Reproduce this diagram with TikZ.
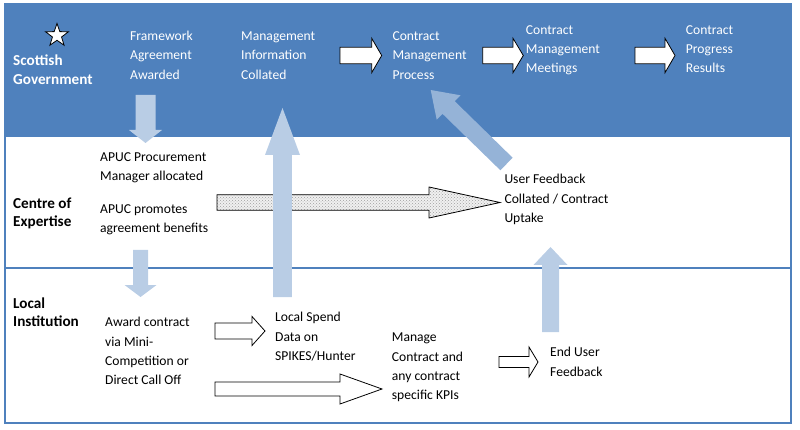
\documentclass[tikz,border=0pt]{standalone}
\usepackage{fontspec}
\setmainfont{Carlito}
\usetikzlibrary{shapes.geometric,patterns}
\definecolor{band}{HTML}{4F81BD}
\definecolor{lblue}{HTML}{B9CDE5}
\definecolor{dblue}{HTML}{95B3D7}
\newcommand\harrow[7]{\draw[#1] (#2,#5-#6) -- (#3,#5-#6) -- (#3,#5-#7) -- (#4,#5) -- (#3,#5+#7) -- (#3,#5+#6) -- (#2,#5+#6) -- cycle;}
\newcommand\varrow[7]{\draw[#1] (#5-#6,#2) -- (#5-#6,#3) -- (#5-#7,#3) -- (#5,#4) -- (#5+#7,#3) -- (#5+#6,#3) -- (#5+#6,#2) -- cycle;}
\tikzset{
  txt/.style={anchor=base west, inner sep=0pt, align=left, font=\fontsize{13.6}{19.3}\selectfont},
  wtxt/.style={txt, text=white},
  lane/.style={anchor=base west, inner sep=0pt, align=left, font=\fontsize{15.2}{18.6}\selectfont\bfseries},
  outarr/.style={draw=black, fill=white, line width=0.8pt, line join=miter},
  bluearr/.style={draw=none, fill=lblue},
  diagarr/.style={draw=none, fill=dblue},
  dotarr/.style={draw=black, line width=0.8pt, preaction={fill=gray!12}, pattern=crosshatch dots, pattern color=gray!75},
  frame/.style={draw=band, line width=1.2pt}
}
\begin{document}
\begin{tikzpicture}[x=1pt,y=-1pt]
\useasboundingbox (0,0) rectangle (800,430);
% lanes
\fill[band] (5,4) rectangle (791,137);
\draw[frame] (5,268) -- (791,268);
\draw[frame] (5,4) rectangle (791,423);
% star
\node[star, star points=5, star point ratio=2.5, draw=black, fill=white, line width=0.8pt, inner sep=0pt, minimum size=24pt] (star) at (57,35.5) {};
% lane labels (anchor = baseline of last line)
\node[lane, text=white] (sg) at (13,84.3) {Scottish\\Government};
\node[lane] (coe) at (13,226.9) {Centre of\\Expertise};
\node[lane] (li) at (13,326.9) {Local\\Institution};
% header texts
\node[wtxt] (fa) at (130,79.3) {Framework\\Agreement\\Awarded};
\node[wtxt] (mi) at (241,79.3) {Management\\Information\\Collated};
\node[wtxt] (cmp) at (392.3,79.3) {Contract\\Management\\Process};
\node[wtxt] (cmm) at (525.7,72.9) {Contract\\Management\\Meetings};
\node[wtxt] (cpr) at (685.7,72.9) {Contract\\Progress\\Results};
% centre texts
\node[txt] (apm) at (100,181) {APUC Procurement\\Manager allocated};
\node[txt] (apb) at (100,232.6) {APUC promotes\\agreement benefits};
\node[txt] (uf) at (504.3,222.6) {User Feedback\\Collated / Contract\\Uptake};
% local texts
\node[txt] (ac) at (105,384.6) {Award contract\\via Mini-\\Competition or\\Direct Call Off};
\node[txt] (ls) at (275,360.3) {Local Spend\\Data on\\SPIKES/Hunter};
\node[txt] (mc) at (391.7,399.6) {Manage\\Contract and\\any contract\\specific KPIs};
\node[txt] (eu) at (550,376) {End User\\Feedback};
% header arrows
\harrow{outarr}{340}{371.7}{381.7}{55.5}{8.3}{17.2}
\harrow{outarr}{482.7}{513}{523.3}{55.5}{8.3}{17.2}
\harrow{outarr}{635}{665}{675}{55.5}{8.3}{17.2}
% dotted arrow
\harrow{dotarr}{217}{429}{500}{202.5}{7.8}{15.5}
% blue arrows
\varrow{bluearr}{95}{130}{143}{145.5}{10}{16.5}
\varrow{bluearr}{250}{285}{297}{140.5}{7.5}{16}
\varrow{bluearr}{297}{155}{108}{282.5}{9.3}{17.5}
\varrow{bluearr}{332}{265}{247}{550.5}{8.5}{17}
\fill[diagarr] (512.6,157.7) -- (454.7,101.2) -- (460.5,95.3) -- (430.7,90) -- (436.7,119.7) -- (442.5,113.8) -- (500.4,170.3) -- cycle;
% local arrows
\harrow{outarr}{215}{252}{265}{331}{8}{14.5}
\harrow{outarr}{215}{340}{382}{389}{7}{15}
\harrow{outarr}{499}{529}{538}{362}{5.5}{15}
\end{tikzpicture}
\end{document}
